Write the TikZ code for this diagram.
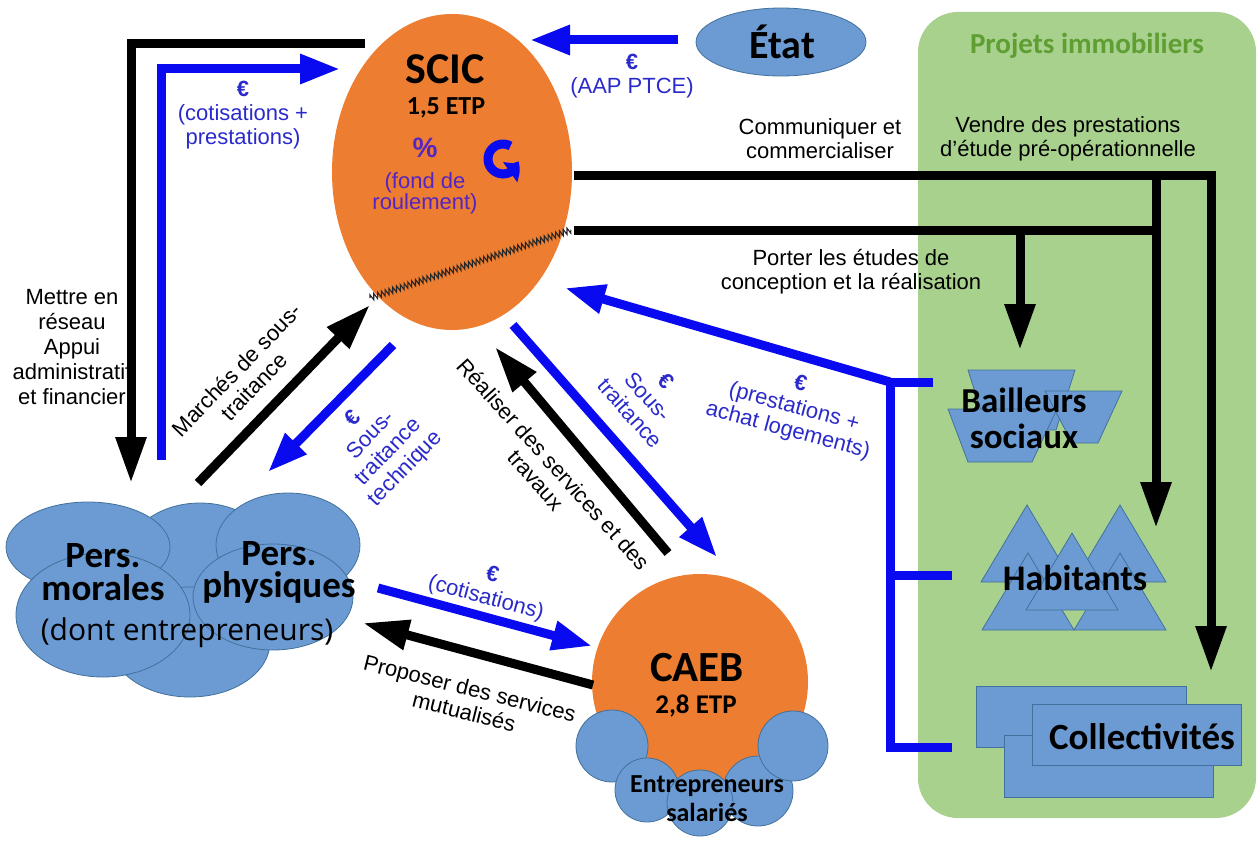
\documentclass[tikz,border=0pt]{standalone}
\usepackage{fontspec}
\setmainfont{Liberation Sans}
\newfontfamily\calib{Carlito}
\newfontfamily\opensans{Open Sans}
\usetikzlibrary{arrows.meta,bending,shapes.geometric,decorations.pathmorphing}

\definecolor{scicorange}{HTML}{ED7D31}
\definecolor{blobfill}{HTML}{6B9BD2}
\definecolor{blobline}{HTML}{41719C}
\definecolor{projgreen}{HTML}{A9D18E}
\definecolor{projtitle}{HTML}{5E9E32}
\definecolor{flowblue}{HTML}{0A0AF0}
\definecolor{textblue}{HTML}{2A2ACC}
\definecolor{fundviolet}{HTML}{5424C4}

\begin{document}
\begin{tikzpicture}[x=1pt, y=-1pt,
	every node/.style={font=\fontsize{22}{24}\selectfont, align=center, inner sep=0pt},
	>={Triangle[length=46pt, width=29pt]},
	flow/.style={line width=9pt},
	money/.style={line width=9pt, draw=flowblue, >={Triangle[length=40pt, width=28pt]}},
	eur/.style={text=textblue},
	blob/.style={draw=blobline, fill=blobfill, line width=0.8pt},
	heavy/.style 2 args={font=\calib\bfseries\fontsize{#1}{#2}\selectfont}]
	\useasboundingbox (0,0) rectangle (1257,842);

	% green panel on the right
	\node[fill=projgreen, rounded corners=40pt, minimum width=338pt, minimum height=806pt] (proj) at (1087,415) {};
	\node[heavy={29}{29}, text=projtitle] (projTitle) at (1087,46) {Projets immobiliers};

	% black labels
	\node[font=\fontsize{22}{25}\selectfont] (reseauLbl) at (72,347) {Mettre en\\réseau\\Appui\\administratif\\et financier};
	\node (commLbl) at (820,139) {Communiquer et\\commercialiser};
	\node (vendreLbl) at (1068,139) {Vendre des prestations\\d'étude pré-opérationnelle};
	\node (porterLbl) at (851,272) {Porter les études de\\conception et la réalisation};
	\node[rotate=46] (marchesLbl) at (245,378) {Marchés de sous-\\traitance};
	\node[rotate=-48] (realiserLbl) at (545,472) {Réaliser des services et des\\travaux};
	\node[rotate=-14] (proposerLbl) at (467,700) {Proposer des services\\mutualisés};

	% money labels
	\node[eur] (cotisPrestLbl) at (243,115) {\textbf{€}\\(cotisations +\\prestations)};
	\node[eur] (aapLbl) at (632,76) {\textbf{€}\\(AAP PTCE)};
	\node[eur, rotate=46] (sousTechLbl) at (380,444) {\textbf{€}\\Sous-\\traitance\\technique};
	\node[eur, rotate=-48] (sousTraitLbl) at (648,397) {\textbf{€}\\Sous-\\traitance};
	\node[eur, rotate=-15] (prestLbl) at (794,408) {\textbf{€}\\(prestations +\\achat logements)};
	\node[eur, rotate=-15] (cotisLbl) at (489,587) {\textbf{€}\\(cotisations)};

	% SCIC
	\node[ellipse, fill=scicorange, minimum width=240pt, minimum height=316pt] (scic) at (452,172) {};
	\node[heavy={44}{44}] (scicName) at (445,69) {SCIC};
	\node[heavy={26}{26}] (scicEtp) at (446,108) {1,5 ETP};
	\node[font=\bfseries\fontsize{28}{28}\selectfont, text=fundviolet] (pct) at (425,148) {\%};
	\node[font=\fontsize{22}{21}\selectfont, text=fundviolet] (fondLbl) at (425,193) {(fond de\\roulement)};
	\begin{scope}[shift={(503,159)}, y=1pt]
		\draw[line width=9pt, flowblue, -{Triangle[length=14pt, width=24pt, bend]}] (60:15) arc (60:352:15);
	\end{scope}
	\draw[decorate, decoration={zigzag, segment length=4pt, amplitude=3pt}, line width=1.1pt, black!85] (370,298) -- (571,230);

	% Etat
	\node[ellipse, blob, minimum width=170pt, minimum height=68pt] (etat) at (781,42) {};
	\node[heavy={40}{40}] (etatName) at (782,42) {État};

	% members cloud
	\draw[blob] (200,560) ellipse (75 and 57);
	\draw[blob] (190,642) ellipse (80 and 55);
	\draw[blob] (288,545) ellipse (72 and 52);
	\draw[blob] (88,547) ellipse (82 and 45);
	\draw[blob] (103,615) ellipse (87 and 62);
	\draw[blob] (273,597) ellipse (80 and 53);
	\node[heavy={37}{33}] (persMor) at (103,572) {Pers.\\morales};
	\node[heavy={37}{32}] (persPhy) at (279,572) {Pers.\\physiques};
	\node[font=\opensans\fontsize{30}{30}\selectfont] (persDont) at (187,633) {(dont entrepreneurs)};

	% CAEB
	\node[circle, fill=scicorange, minimum size=216pt] (caeb) at (700,682) {};
	\foreach \cx/\cy/\r in {612/746/36, 647/790/32, 758/791/35, 793/746/35, 700/803/33}
		\draw[blob] (\cx,\cy) circle (\r);
	\node[heavy={43}{43}] (caebName) at (697,668) {CAEB};
	\node[heavy={27}{27}] (caebEtp) at (696,706) {2,8 ETP};
	\node[heavy={26}{29}] (salaries) at (707,799) {Entrepreneurs\\salariés};

	% bailleurs
	\draw[blob] (968,370) -- (1075,370) -- (1056,430) -- (987,430) -- cycle;
	\draw[blob] (1045,391) -- (1122,391) -- (1098,443) -- (1072,443) -- cycle;
	\draw[blob] (948,409) -- (1057,409) -- (1032,462) -- (968,462) -- cycle;
	\node[heavy={35}{36}] (bailleurs) at (1024,418) {Bailleurs\\sociaux};

	% habitants
	\foreach \ax/\ay in {1027/505, 1120/505, 1028/553, 1120/553, 1072/533}
		\draw[blob] (\ax,\ay) -- ++(46,77) -- ++(-92,0) -- cycle;
	\node[heavy={36}{36}] (habitants) at (1075,578) {Habitants};

	% collectivites
	\draw[blob] (976,686) rectangle (1186,747);
	\draw[blob] (1004,735) rectangle (1213,797);
	\draw[blob] (1032,704) rectangle (1241,765);
	\node[heavy={37}{37}] (collectivites) at (1142,737) {Collectivités};

	% arrow ends
	\coordinate (scicTopL) at (365,44);
	\coordinate (persDrop) at (131,483);
	\coordinate (persRise) at (161,460);
	\coordinate (scicInL) at (340,69);
	\coordinate (etatOut) at (678,40);
	\coordinate (scicInR) at (530,40);
	\coordinate (persMarch) at (198,483);
	\coordinate (scicMarch) at (370,305);
	\coordinate (scicTech) at (393,345);
	\coordinate (persTech) at (268,472);
	\coordinate (caebReal) at (668,553);
	\coordinate (scicReal) at (495,347);
	\coordinate (scicTrait) at (513,325);
	\coordinate (caebTrait) at (717,557);
	\coordinate (persCotis) at (378,588);
	\coordinate (caebCotis) at (592,646);
	\coordinate (caebProp) at (593,685);
	\coordinate (persProp) at (363,623);
	\coordinate (clientHub) at (890,382);
	\coordinate (scicPrest) at (565,288);
	\coordinate (hubBottom) at (890,747);
	\coordinate (bailStub) at (933,382);
	\coordinate (habStub) at (952,575);
	\coordinate (collStub) at (952,747);
	\coordinate (scicE1) at (574,176);
	\coordinate (scicE2) at (574,231);
	\coordinate (split) at (1156,176);
	\coordinate (joinB) at (1156,231);
	\coordinate (bailBranch) at (1020,231);
	\coordinate (bailTop) at (1020,350);
	\coordinate (habTop) at (1156,528);
	\coordinate (collTop) at (1211,672);

	% flows
	\draw[flow, ->] (scicTopL) -| (persDrop);
	\draw[money, ->] (persRise) |- (scicInL);
	\draw[money, ->] (etatOut) -- (scicInR);
	\draw[flow, ->] (persMarch) -- (scicMarch);
	\draw[money, ->] (scicTech) -- (persTech);
	\draw[flow, ->] (caebReal) -- (scicReal);
	\draw[money, ->] (scicTrait) -- (caebTrait);
	\draw[money, ->] (persCotis) -- (caebCotis);
	\draw[flow, ->] (caebProp) -- (persProp);
	\draw[money] (bailStub) -- (clientHub) -- (hubBottom) -- (collStub);
	\draw[money] (clientHub |- habStub) -- (habStub);
	\draw[money, ->] (clientHub) -- (scicPrest);
	\draw[flow, ->] (scicE1) -| (collTop);
	\draw[flow, ->] (split) -- (habTop);
	\draw[flow] (scicE2) -- (joinB);
	\draw[flow, ->] (bailBranch) -- (bailTop);
\end{tikzpicture}
\end{document}
